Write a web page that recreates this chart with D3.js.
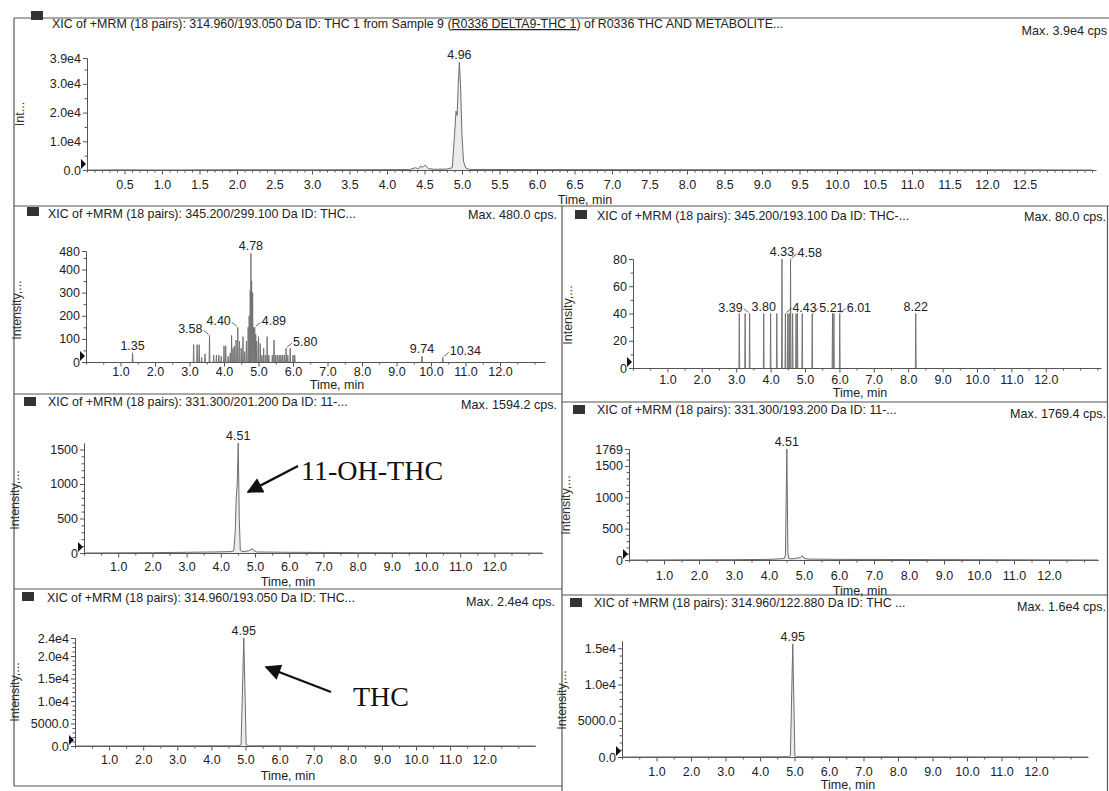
<!DOCTYPE html>
<html>
<head>
<meta charset="utf-8">
<script src="https://cdn.jsdelivr.net/npm/d3@7"></script>
<style>
  body { margin: 0; background: #fff; }
  svg { display: block; font-family: "Liberation Sans", Arial, sans-serif; }
  .tick text { font-size: 12.5px; fill: #222; }
  .axis path, .axis line { stroke: #555; }
</style>
</head>
<body>
<svg id="chart" width="1109" height="791"></svg>
<script>
// ---------- data ----------
const titleParts = [
  ['XIC of +MRM (18 pairs): 314.960/193.050 Da ID: THC 1 from Sample 9 (', 'R0336 DELTA9-THC 1', ') of R0336 THC AND METABOLITE...'],
  ['XIC of +MRM (18 pairs): 345.200/299.100 Da ID: THC...', '', ''],
  ['XIC of +MRM (18 pairs): 345.200/193.100 Da ID: THC-...', '', ''],
  ['XIC of +MRM (18 pairs): 331.300/201.200 Da ID: 11-...', '', ''],
  ['XIC of +MRM (18 pairs): 331.300/193.200 Da ID: 11-...', '', ''],
  ['XIC of +MRM (18 pairs): 314.960/193.050 Da ID: THC...', '', ''],
  ['XIC of +MRM (18 pairs): 314.960/122.880 Da ID: THC ...', '', '']
];
const maxLabels = ['Max. 3.9e4 cps', 'Max. 480.0 cps.', 'Max. 80.0 cps.',
  'Max. 1594.2 cps.', 'Max. 1769.4 cps.', 'Max. 2.4e4 cps.', 'Max. 1.6e4 cps.'];
const yNames = ['Int...', 'Intensity,...', 'Intensity,...', 'Intensity,...',
  'Intensity,...', 'Intensity,...', 'Intensity,...'];
const xName = 'Time, min';
const yMax = [39000, 480, 80, 1594.2, 1769.4, 24000, 16000];

const xTicksTop = [0.5, 1.0, 1.5, 2.0, 2.5, 3.0, 3.5, 4.0, 4.5, 5.0, 5.5, 6.0, 6.5,
  7.0, 7.5, 8.0, 8.5, 9.0, 9.5, 10.0, 10.5, 11.0, 11.5, 12.0, 12.5];
const xTicks = [1.0, 2.0, 3.0, 4.0, 5.0, 6.0, 7.0, 8.0, 9.0, 10.0, 11.0, 12.0];

const yTickValues = [
  [0, 10000, 20000, 30000, 39000],
  [0, 100, 200, 300, 400, 480],
  [0, 20, 40, 60, 80],
  [0, 500, 1000, 1500],
  [0, 500, 1000, 1500, 1769],
  [0, 5000, 10000, 15000, 20000, 24000],
  [0, 5000, 10000, 15000]
];
const yTickText = [
  ['0.0', '1.0e4', '2.0e4', '3.0e4', '3.9e4'],
  ['0', '100', '200', '300', '400', '480'],
  ['0', '20', '40', '60', '80'],
  ['0', '500', '1000', '1500'],
  ['0', '500', '1000', '1500', '1769'],
  ['0.0', '5000.0', '1.0e4', '1.5e4', '2.0e4', '2.4e4'],
  ['0.0', '5000.0', '1.0e4', '1.5e4']
];

// continuous traces (time, cps)
const thc1Time = [0.00, 0.50, 1.00, 2.00, 3.00, 4.00, 4.30, 4.38, 4.42, 4.45, 4.48, 4.51, 4.55,
  4.62, 4.80, 4.87, 4.90, 4.92, 4.935, 4.95, 4.965, 4.98, 5.00, 5.02, 5.05, 5.10, 6.00, 8.00,
  10.00, 12.00, 13.40];
const thc1Cps = [0, 50, 0, 80, 60, 120, 150, 800, 400, 1400, 900, 1700, 500,
  250, 300, 800, 12000, 20500, 19000, 30000, 37500, 30000, 12000, 3000, 700, 200, 150, 100,
  100, 80, 0];

const oh201Time = [0, 2.0, 3.0, 3.8, 4.30, 4.38, 4.42, 4.45, 4.48, 4.51, 4.54, 4.57, 4.62,
  4.80, 4.88, 4.93, 4.98, 5.05, 6.0, 8.0, 13.4];
const oh201Cps = [0, 5, 10, 15, 20, 30, 300, 780, 1000, 1594, 500, 40, 20,
  30, 50, 60, 30, 15, 10, 5, 0];

const oh193Time = [0, 3.0, 4.0, 4.35, 4.44, 4.47, 4.51, 4.54, 4.57, 4.70, 4.90, 4.95, 5.00,
  5.10, 6.0, 13.4];
const oh193Cps = [0, 5, 10, 20, 25, 80, 1769, 120, 20, 20, 40, 70, 30, 15, 10, 0];

const thc193Time = [0, 4.80, 4.87, 4.95, 5.02, 5.08, 13.5];
const thc193Cps = [0, 50, 300, 24000, 300, 50, 0];

const thc122Time = [0, 4.82, 4.88, 4.95, 5.01, 5.06, 13.5];
const thc122Cps = [0, 30, 200, 15600, 200, 30, 0];

// spiky low-count traces (time, cps)
const cooh299Time = [1.35, 3.12, 3.22, 3.28, 3.35, 3.45, 3.58, 3.70, 3.78, 3.85, 3.92, 4.00,
  4.05, 4.12, 4.18, 4.22, 4.26, 4.30, 4.35, 4.40, 4.45, 4.50, 4.55, 4.60, 4.65, 4.70, 4.73,
  4.76, 4.78, 4.80, 4.83, 4.86, 4.89, 4.92, 4.95, 5.00, 5.05, 5.10, 5.15, 5.20, 5.25, 5.30,
  5.40, 5.45, 5.50, 5.55, 5.60, 5.65, 5.70, 5.75, 5.80, 5.85, 5.92, 6.00, 6.05, 9.74, 10.34];
const cooh299Cps = [40, 75, 75, 75, 20, 35, 115, 30, 30, 30, 25, 70,
  70, 25, 40, 115, 60, 70, 95, 150, 90, 60, 110, 45, 90, 150, 200,
  310, 470, 350, 300, 150, 150, 120, 90, 110, 80, 30, 60, 30, 110, 30,
  30, 95, 30, 30, 30, 30, 30, 30, 60, 30, 60, 30, 30, 25, 20];

const cooh193Time = [3.09, 3.26, 3.39, 3.80, 4.00, 4.18, 4.33, 4.43, 4.50, 4.54, 4.58, 4.64,
  4.74, 4.78, 4.92, 5.21, 5.80, 5.84, 6.01, 8.22];
const cooh193Cps = [40, 40, 40, 40, 40, 40, 80, 40, 40, 40, 80, 40,
  40, 40, 40, 40, 40, 40, 40, 40];

// peak apex labels (time, cps)
const peakText = [
  ['4.96'],
  ['1.35', '3.58', '4.40', '4.78', '4.89', '5.80', '9.74', '10.34'],
  ['3.39', '3.80', '4.33', '4.58', '4.43', '5.21', '6.01', '8.22'],
  ['4.51'], ['4.51'], ['4.95'], ['4.95']
];
const peakTime = [
  [4.965],
  [1.35, 3.58, 4.40, 4.78, 4.89, 5.80, 9.74, 10.34],
  [3.39, 3.80, 4.33, 4.58, 4.43, 5.21, 6.01, 8.22],
  [4.51], [4.51], [4.95], [4.95]
];
const peakCps = [
  [37500],
  [40, 115, 150, 470, 150, 60, 25, 20],
  [40, 40, 80, 80, 40, 40, 40, 40],
  [1594], [1769], [24000], [15600]
];

const callouts = ['11-OH-THC', 'THC'];

// ---------- layout ----------
const layout = [
  {x0: 87, ppm: 75, tEnd: 13.45, yB: 170, yT: 58, sq: [31, 11], tx: 52, ty: 28, mx: 1107, my: 35,
    nx: 585, ny: 204, yl: [24, 114], pad: 6, minorX: 0.1, minorY: 5000, labelPos: ['c']},
  {x0: 86, ppm: 34.5, tEnd: 13.3, yB: 362, yT: 251, sq: [27, 207], tx: 48, ty: 218, mx: 557, my: 219,
    nx: 337, ny: 389, yl: [21, 310], pad: 1, minorX: 0.5, minorY: 50,
    labelPos: ['c', 'l', 'l', 'c', 'r', 'r', 'c', 'r']},
  {x0: 633, ppm: 34.4, tEnd: 13.6, yB: 368, yT: 259, sq: [575, 210], tx: 597, ty: 220, mx: 1106, my: 221,
    nx: 860, ny: 397, yl: [572, 315], pad: 3, minorX: 0.5, minorY: 10,
    labelPos: ['l', 'c', 'c', 'r', 'r', 'r', 'r', 'c']},
  {x0: 84, ppm: 34.2, tEnd: 13.4, yB: 553, yT: 443, sq: [24, 397], tx: 48, ty: 406, mx: 557, my: 409,
    nx: 288, ny: 586, yl: [19, 500], pad: 5, minorX: 0.5, minorY: 100, labelPos: ['c']},
  {x0: 629, ppm: 35, tEnd: 13.4, yB: 560, yT: 449, sq: [573, 405], tx: 597, ty: 414, mx: 1106, my: 418,
    nx: 860, ny: 595, yl: [570, 505], pad: 7, minorX: 0.5, minorY: 100, labelPos: ['c']},
  {x0: 75, ppm: 34.1, tEnd: 13.5, yB: 746, yT: 638, sq: [22, 592], tx: 47, ty: 602, mx: 555, my: 606,
    nx: 288, ny: 780, yl: [19, 692], pad: 5, minorX: 0.5, minorY: 1000, labelPos: ['c']},
  {x0: 622, ppm: 34.5, tEnd: 13.5, yB: 757, yT: 641, sq: [570, 598], tx: 594, ty: 607, mx: 1106, my: 611,
    nx: 848, ny: 789, yl: [566, 700], pad: 6, minorX: 0.5, minorY: 1000, labelPos: ['c']}
];

const traces = [
  {kind: 'line', t: thc1Time, v: thc1Cps},
  {kind: 'spike', t: cooh299Time, v: cooh299Cps},
  {kind: 'spike', t: cooh193Time, v: cooh193Cps},
  {kind: 'line', t: oh201Time, v: oh201Cps},
  {kind: 'line', t: oh193Time, v: oh193Cps},
  {kind: 'line', t: thc193Time, v: thc193Cps},
  {kind: 'line', t: thc122Time, v: thc122Cps}
];

const svg = d3.select('#chart');

svg.append('defs').append('marker')
    .attr('id', 'arrowhead')
    .attr('viewBox', '0 0 10 10')
    .attr('refX', 9).attr('refY', 5)
    .attr('markerUnits', 'userSpaceOnUse')
    .attr('markerWidth', 20).attr('markerHeight', 16)
    .attr('orient', 'auto')
    .append('path')
    .attr('d', 'M0,0 L10,5 L0,10 Z')
    .attr('fill', '#111');

// frame of the printout
const frame = svg.append('g').attr('stroke', '#555').attr('stroke-width', 1.2);
[[14, 18, 1109, 18], [14, 18, 14, 786], [14, 206, 1109, 206], [562, 206, 562, 791],
  [1107.5, 206, 1107.5, 791], [14, 394, 562, 394], [562, 402, 1107.5, 402],
  [14, 589, 562, 589], [562, 595, 1107.5, 595], [14, 786, 562, 786]]
    .forEach((l) => frame.append('line')
        .attr('x1', l[0]).attr('y1', l[1]).attr('x2', l[2]).attr('y2', l[3]));

layout.forEach(function(g, i) {
  const x = d3.scaleLinear().domain([0, g.tEnd]).range([g.x0, g.x0 + g.tEnd * g.ppm]);
  const y = d3.scaleLinear().domain([0, yMax[i]]).range([g.yB, g.yT]);
  const panel = svg.append('g').attr('class', 'panel');

  // header
  panel.append('rect').attr('x', g.sq[0]).attr('y', g.sq[1])
      .attr('width', 12).attr('height', 9).attr('fill', '#333');
  const title = panel.append('text').attr('x', g.tx).attr('y', g.ty)
      .attr('font-size', 12.4).attr('fill', '#222');
  title.append('tspan').text(titleParts[i][0]);
  if (titleParts[i][1]) {
    title.append('tspan').attr('text-decoration', 'underline').text(titleParts[i][1]);
    title.append('tspan').text(titleParts[i][2]);
  }
  panel.append('text').attr('x', g.mx).attr('y', g.my)
      .attr('text-anchor', 'end').attr('font-size', 12.6).attr('fill', '#222')
      .text(maxLabels[i]);

  // axes
  const ticksX = i === 0 ? xTicksTop : xTicks;
  const minorX = d3.range(0, g.tEnd, g.minorX)
      .filter((t) => !ticksX.some((k) => Math.abs(k - t) < 1e-6));
  panel.append('g').attr('class', 'axis')
      .attr('transform', `translate(0,${g.yB})`)
      .call(d3.axisBottom(x).tickValues(minorX).tickSize(2.5).tickSizeOuter(0).tickFormat(''));
  panel.append('g').attr('class', 'axis')
      .attr('transform', `translate(0,${g.yB})`)
      .call(d3.axisBottom(x).tickValues(ticksX).tickSize(4.5).tickSizeOuter(0)
          .tickPadding(g.pad).tickFormat(d3.format('.1f')));

  const minorY = d3.range(0, yMax[i], g.minorY)
      .filter((v) => !yTickValues[i].includes(v));
  panel.append('g').attr('class', 'axis')
      .attr('transform', `translate(${g.x0},0)`)
      .call(d3.axisLeft(y).tickValues(minorY).tickSize(2.5).tickSizeOuter(0).tickFormat(''));
  panel.append('g').attr('class', 'axis')
      .attr('transform', `translate(${g.x0},0)`)
      .call(d3.axisLeft(y).tickValues(yTickValues[i]).tickSize(4).tickSizeOuter(0)
          .tickPadding(2).tickFormat((d, j) => yTickText[i][j]));

  // start-of-run marker
  panel.append('path')
      .attr('d', `M${g.x0 - 6},${g.yB - 11} L${g.x0 - 1},${g.yB - 6} L${g.x0 - 6},${g.yB - 1} Z`)
      .attr('fill', '#111');

  panel.append('text').attr('x', g.nx).attr('y', g.ny)
      .attr('text-anchor', 'middle').attr('font-size', 12.5).attr('fill', '#222')
      .text(xName);
  panel.append('text')
      .attr('transform', `translate(${g.yl[0]},${g.yl[1]}) rotate(-90)`)
      .attr('text-anchor', 'middle').attr('font-size', 12.5).attr('fill', '#333')
      .text(yNames[i]);

  // trace
  const tr = traces[i];
  const pts = tr.t.map((t, j) => [t, tr.v[j]]);
  if (tr.kind === 'line') {
    panel.append('path').datum(pts)
        .attr('d', d3.area().x((d) => x(d[0])).y0(g.yB).y1((d) => y(d[1])))
        .attr('fill', '#ececec');
    panel.append('path').datum(pts)
        .attr('d', d3.line().x((d) => x(d[0])).y((d) => y(d[1])))
        .attr('fill', 'none').attr('stroke', '#6d6d6d').attr('stroke-width', 1);
  } else {
    const half = 0.012;
    panel.append('g').selectAll('path').data(pts).enter().append('path')
        .attr('d', (d) => d3.line()([[x(d[0] - half), g.yB], [x(d[0]), y(d[1])],
          [x(d[0] + half), g.yB]]))
        .attr('fill', '#e4e4e4').attr('stroke', '#6d6d6d').attr('stroke-width', 0.9);
  }

  // apex labels
  peakText[i].forEach(function(txt, j) {
    const px = x(peakTime[i][j]);
    const py = y(peakCps[i][j]);
    const pos = g.labelPos[j];
    const lab = panel.append('text').attr('font-size', 12.5).attr('fill', '#222').text(txt);
    if (pos === 'c') {
      lab.attr('x', px).attr('y', py - 3).attr('text-anchor', 'middle');
    } else {
      const s = pos === 'r' ? 1 : -1;
      panel.append('line')
          .attr('x1', px + s).attr('y1', py - 1)
          .attr('x2', px + s * 6).attr('y2', py - 5)
          .attr('stroke', '#444').attr('stroke-width', 0.8);
      lab.attr('x', px + s * 7).attr('y', py - 2)
          .attr('text-anchor', pos === 'r' ? 'start' : 'end');
    }
  });
});

// hand-added callouts
const notes = [
  {text: callouts[0], tx: 301, ty: 480, from: [298, 466], to: [248, 492]},
  {text: callouts[1], tx: 353, ty: 706, from: [331, 692], to: [266, 667]}
];
notes.forEach(function(n) {
  svg.append('line')
      .attr('x1', n.from[0]).attr('y1', n.from[1])
      .attr('x2', n.to[0]).attr('y2', n.to[1])
      .attr('stroke', '#111').attr('stroke-width', 2.4)
      .attr('marker-end', 'url(#arrowhead)');
  svg.append('text').attr('x', n.tx).attr('y', n.ty)
      .attr('font-family', '"Liberation Serif", "Times New Roman", serif')
      .attr('font-size', 28).attr('fill', '#111')
      .text(n.text);
});
</script>
</body>
</html>
